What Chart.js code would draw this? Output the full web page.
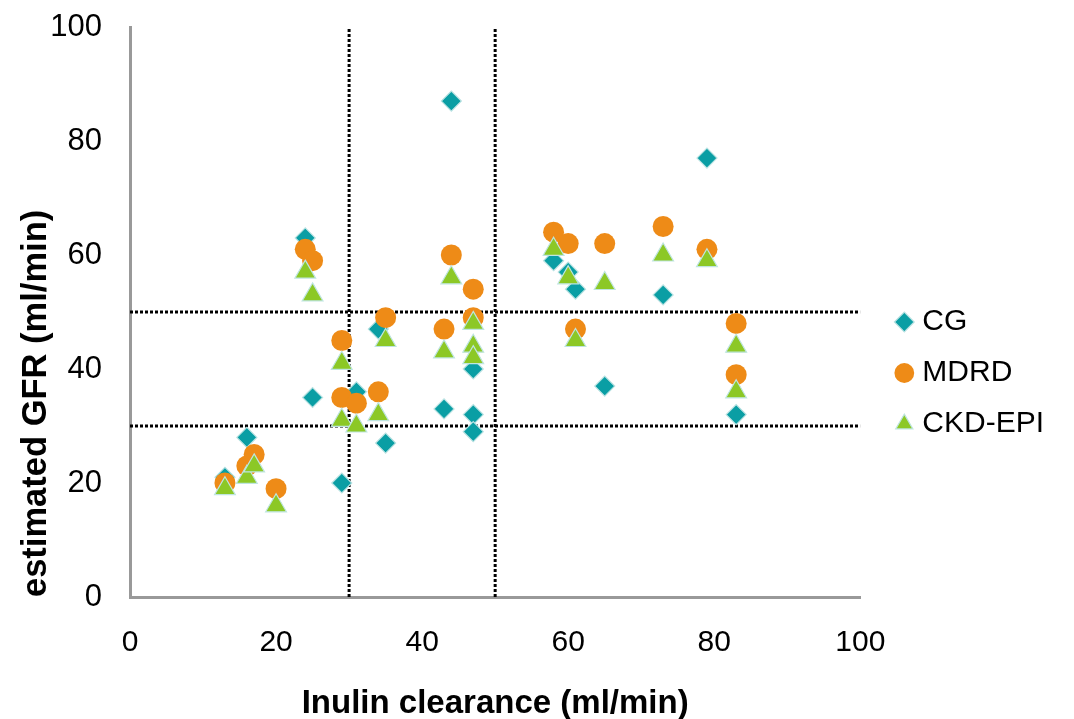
<!DOCTYPE html>
<html>
<head>
<meta charset="utf-8">
<script src="https://cdn.jsdelivr.net/npm/chart.js@4/dist/chart.umd.min.js"></script>
<style>
  html, body { margin: 0; padding: 0; background: #ffffff; }
  #wrap { width: 1074px; height: 719px; }
</style>
</head>
<body>
<div id="wrap"><canvas id="c" width="1074" height="719"></canvas></div>
<script>
// ---- data ----
const seriesNames = ['CG', 'MDRD', 'CKD-EPI'];

const cgX = [13, 16, 24, 25, 29, 31, 34, 35, 43, 44, 47, 47, 47, 58, 60, 61, 65, 73, 79, 83];
const cgY = [21, 28, 63, 35, 20, 36, 47, 27, 33, 87, 40, 32, 29, 59, 57, 54, 37, 53, 77, 32];

const mdrdX = [13, 16, 17, 20, 24, 25, 29, 29, 31, 34, 35, 43, 44, 47, 47, 58, 60, 61, 65, 73, 79, 83, 83];
const mdrdY = [20, 23, 25, 19, 61, 59, 45, 35, 34, 36, 49, 47, 60, 54, 49, 64, 62, 47, 62, 65, 61, 48, 39];

const ckdX = [13, 16, 17, 20, 24, 25, 29, 29, 31, 34, 35, 43, 44, 47, 47, 47, 58, 60, 61, 65, 73, 79, 83, 83];
const ckdY = [19, 21, 23, 16, 57, 53, 41, 31, 30, 32, 45, 43, 56, 48, 44, 42, 61, 56, 45, 55, 60, 59, 44, 36];

// threshold (dotted) reference lines
const refVerticalX = [30, 50];
const refHorizontalY = [30, 50];

const axisMin = 0, axisMax = 100, axisStep = 20;

// ---- build datasets ----
const toPts = (xs, ys) => xs.map((x, i) => ({ x: x, y: ys[i] }));

const datasets = [
  {
    label: seriesNames[0], data: toPts(cgX, cgY), order: 3,
    pointStyle: 'rectRot', pointRadius: 10, pointHoverRadius: 10,
    backgroundColor: '#0a9ea4', borderColor: '#b9e2e2', borderWidth: 1.2
  },
  {
    label: seriesNames[1], data: toPts(mdrdX, mdrdY), order: 2,
    pointStyle: 'circle', pointRadius: 10.5, pointHoverRadius: 10.5,
    backgroundColor: '#ee8b17', borderColor: '#ee8b17', borderWidth: 0
  },
  {
    label: seriesNames[2], data: toPts(ckdX, ckdY), order: 1,
    pointStyle: 'triangle', pointRadius: 12, pointHoverRadius: 12,
    backgroundColor: '#8cc826', borderColor: '#bfe5e0', borderWidth: 1.2
  }
];

refVerticalX.forEach(v => datasets.push({
  label: '_ref', data: [{ x: v, y: axisMin }, { x: v, y: axisMax }],
  showLine: true, pointRadius: 0, borderColor: '#000', borderWidth: 3,
  borderDash: [3, 2], order: 10
}));
refHorizontalY.forEach(v => datasets.push({
  label: '_ref', data: [{ x: axisMin, y: v }, { x: axisMax, y: v }],
  showLine: true, pointRadius: 0, borderColor: '#000', borderWidth: 3,
  borderDash: [3, 2], order: 10
}));

const FONT = "'Liberation Sans', Arial, sans-serif";

new Chart(document.getElementById('c'), {
  type: 'scatter',
  data: { datasets: datasets },
  options: {
    responsive: false,
    animation: false,
    devicePixelRatio: 1,
    layout: { padding: { top: 27, left: 0, bottom: 0, right: 20 } },
    plugins: {
      tooltip: { enabled: false },
      legend: {
        position: 'right',
        labels: {
          usePointStyle: true,
          boxWidth: 6,
          boxHeight: 14,
          padding: 21,
          color: '#000',
          font: { family: FONT, size: 30 },
          filter: (item) => item.text !== '_ref',
          sort: (a, b) => a.datasetIndex - b.datasetIndex
        }
      }
    },
    scales: {
      x: {
        type: 'linear', min: axisMin, max: axisMax,
        ticks: { stepSize: axisStep, color: '#000', padding: 28, font: { family: FONT, size: 30 } },
        grid: { display: false, drawTicks: false },
        border: { display: true, color: '#999999', width: 3 },
        title: { display: true, text: 'Inulin clearance (ml/min)', color: '#000',
                 font: { family: FONT, size: 33, weight: 'bold' }, padding: { top: 0, bottom: -5 } },
        afterFit: (s) => { s.height = 122; }
      },
      y: {
        type: 'linear', min: axisMin, max: axisMax,
        ticks: { stepSize: axisStep, color: '#000', padding: 28, font: { family: FONT, size: 31 } },
        grid: { display: false, drawTicks: false },
        border: { display: true, color: '#999999', width: 3 },
        title: { display: true, text: 'estimated GFR (ml/min)', color: '#000', align: 'start',
                 font: { family: FONT, size: 34.5, weight: 'bold' }, padding: { top: 16, bottom: 0 } },
        afterFit: (s) => { s.width = 130; s.paddingTop = 0; s.paddingBottom = 0; }
      },
      ySpacer: {
        type: 'linear', position: 'right', display: true,
        ticks: { display: false }, grid: { display: false, drawTicks: false },
        border: { display: false },
        afterFit: (s) => { s.width = 20; s.paddingTop = 0; s.paddingBottom = 0; }
      }
    }
  }
});
</script>
</body>
</html>
